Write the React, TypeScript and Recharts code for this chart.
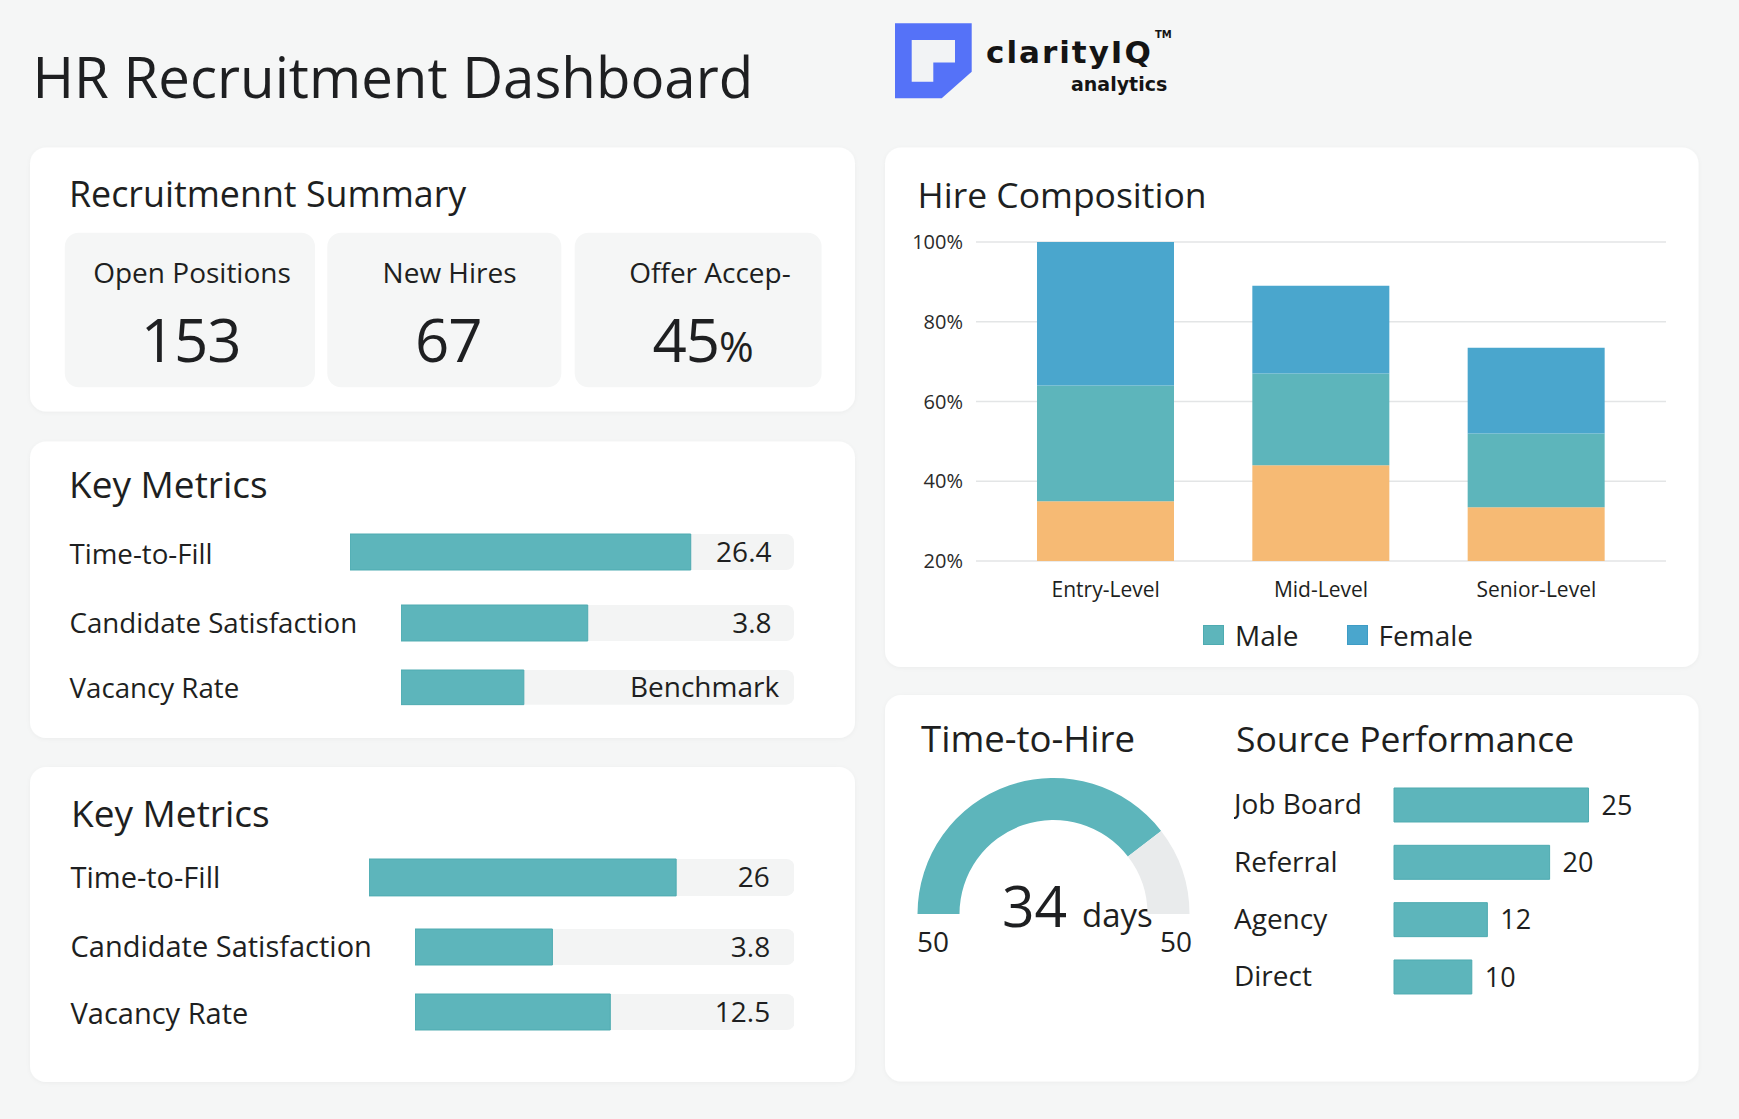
import React from 'react';
import {
  BarChart,
  Bar,
  XAxis,
  YAxis,
  CartesianGrid,
  Legend,
  PieChart,
  Pie,
  Cell,
  LabelList,
} from 'recharts';

const FONT = '"Open Sans", "Noto Sans", sans-serif';
const LOGO_FONT = '"DejaVu Sans", "Open Sans", sans-serif';
const INK = '#1e1f21';
const TEAL = '#5db5bb';
const TEAL_EDGE = '#4eabb1';
const BLUE = '#4aa6cd';
const BLUE_EDGE = '#3e9cc5';
const ORANGE = '#f6ba74';
const TRACK = '#f3f4f4';
const PAGE = '#f5f6f6';
const GAUGE_REST = '#e9ebec';

// Summary tiles
const summaryLabels = ['Open Positions', 'New Hires', 'Offer Accep-'];
const summaryValues = ['153', '67', '45'];
const summaryUnits = ['', '', '%'];

// Key metrics, first panel
const metricsA = ['Time-to-Fill', 'Candidate Satisfaction', 'Vacancy Rate'];
const metricsAValues = [26.4, 3.8, 12.5];
const metricsAScale = [34.4, 8, 40];
const metricsANotes = [null, null, 'Benchmark'];

// Key metrics, second panel
const metricsB = ['Time-to-Fill', 'Candidate Satisfaction', 'Vacancy Rate'];
const metricsBValues = [26, 3.8, 12.5];
const metricsBScale = [36, 10.5, 24.3];

// Hire composition (cumulative stack, percent)
const levels = ['Entry-Level', 'Mid-Level', 'Senior-Level'];
const otherShare = [35, 44, 33.5];
const maleShare = [29, 23, 18.5];
const femaleShare = [36, 22, 21.5];
const shareTicks = [20, 40, 60, 80, 100];
const legendOrder = ['Male', 'Female'];

// Time to hire gauge
const timeToHireDays = 34;
const timeToHireScaleMax = 43;
const gaugeEndLabels = ['50', '50'];

// Source performance
const sources = ['Job Board', 'Referral', 'Agency', 'Direct'];
const sourceHires = [25, 20, 12, 10];
const sourceScaleMax = 32;

const compositionData = levels.map((level, i) => ({
  level,
  other: otherShare[i],
  male: maleShare[i],
  female: femaleShare[i],
}));

const gaugeData = [
  { name: 'elapsed', value: timeToHireDays },
  { name: 'remaining', value: timeToHireScaleMax - timeToHireDays },
];

const sourceData = sources.map((source, i) => ({ source, hires: sourceHires[i] }));

// layout of the metric rows: [left, top, height]
const rowsA = [
  [350.3, 532.3, 40],
  [401.2, 603.3, 40],
  [401.2, 668.3, 38.5],
];
const rowsB = [
  [369, 856.7, 41],
  [414.6, 926.7, 40],
  [414.6, 992.3, 40],
];
const TRACK_RIGHT = 794.3;

type MetricRowProps = {
  left: number;
  top: number;
  height: number;
  value: number;
  max: number;
  note?: string | null;
  inset: number;
};

function MetricRow({ left, top, height, value, max, note, inset }: MetricRowProps) {
  const width = TRACK_RIGHT - left;
  const data = [{ v: value }];
  return (
    <div style={{ position: 'absolute', left, top, width, height }}>
      <BarChart
        width={width}
        height={height}
        data={data}
        layout="vertical"
        margin={{ top: 0, right: 0, bottom: 0, left: 0 }}
      >
        <XAxis type="number" domain={[0, max]} hide />
        <YAxis type="category" hide />
        <Bar
          dataKey="v"
          fill={TEAL}
          stroke={TEAL_EDGE}
          strokeWidth={1}
          barSize={height}
          background={{ fill: TRACK, radius: 8 }}
          isAnimationActive={false}
        >
          <LabelList
            dataKey="v"
            content={(p: any) => (
              <text
                x={width - (note ? 15 : inset)}
                y={height / 2}
                dy="0.35em"
                textAnchor="end"
                fill={INK}
                fontFamily={FONT}
                fontSize={28}
              >
                {note ?? String(p.value)}
              </text>
            )}
          />
        </Bar>
      </BarChart>
    </div>
  );
}

const renderCompositionLegend = (props: any) => {
  const items = (props.payload || [])
    .filter((e: any) => legendOrder.includes(e.value))
    .sort((a: any, b: any) => legendOrder.indexOf(a.value) - legendOrder.indexOf(b.value));
  return (
    <div
      style={{
        height: 30,
        display: 'flex',
        alignItems: 'center',
        paddingLeft: 303,
        fontFamily: FONT,
        fontSize: 28,
        color: INK,
      }}
    >
      {items.map((e: any, i: number) => (
        <div key={i} style={{ display: 'flex', alignItems: 'center', marginRight: 48 }}>
          <span
            style={{
              display: 'inline-block',
              width: 21,
              height: 20,
              boxSizing: 'border-box',
              background: e.color,
              border: `1.5px solid ${e.value === 'Male' ? TEAL_EDGE : BLUE_EDGE}`,
              marginRight: 11,
            }}
          />
          <span style={{ lineHeight: '30px' }}>{e.value}</span>
        </div>
      ))}
    </div>
  );
};

const renderSourceTick = (props: any) => (
  <text x={0} y={props.y} dy="0.35em" textAnchor="start" fill={INK} fontFamily={FONT} fontSize={28}>
    {props.payload.value}
  </text>
);

function StaticLayer() {
  const tileX = [
    [64.8, 315],
    [327.3, 561.3],
    [574.7, 821.6],
  ];
  const labelCenters = [192, 449.6, 710];
  const valueCenters = [190.7, 448.3, 702.6];
  const rowABaselines = [564, 632.7, 697.7];
  const rowBBaselines = [888.3, 957.3, 1023.5];
  return (
    <svg width={1739} height={1119} style={{ position: 'absolute', left: 0, top: 0 }}>
      <defs>
        <filter id="cardShadow" x="-5%" y="-5%" width="110%" height="110%">
          <feDropShadow dx="0" dy="1" stdDeviation="2" floodColor="#000" floodOpacity="0.04" />
        </filter>
      </defs>
      <rect x={0} y={0} width={1739} height={1119} fill={PAGE} />

      <text x={32.5} y={98.3} fontFamily={FONT} fontSize={56.4} fontWeight={500} fill={INK}>
        HR Recruitment Dashboard
      </text>

      {/* brand mark */}
      <polygon points="895,23.3 971.7,23.3 971.7,71.7 941.7,98.3 895,98.3" fill="#5572f8" />
      <path d="M911.7,40 H955 V62.5 H933.3 V81.7 H911.7 Z" fill="#f2f3f5" />
      <text x={986} y={63.3} fontFamily={LOGO_FONT} fontSize={31} fontWeight={700} letterSpacing={2} fill="#141414">
        clarityIQ
      </text>
      <text x={1155} y={37.7} fontFamily={LOGO_FONT} fontSize={10} fontWeight={700} fill="#141414">
        TM
      </text>
      <text x={1071} y={91} fontFamily={LOGO_FONT} fontSize={19} fontWeight={700} fill="#141414">
        analytics
      </text>

      {/* cards */}
      <g filter="url(#cardShadow)" fill="#ffffff">
        <rect x={30} y={147.5} width={825} height={264} rx={16} />
        <rect x={30} y={441.5} width={825} height={296.5} rx={16} />
        <rect x={30} y={767} width={825} height={315} rx={16} />
        <rect x={885} y={147.5} width={813.5} height={519.5} rx={16} />
        <rect x={885} y={695} width={813.5} height={386.5} rx={16} />
      </g>

      {/* summary tiles */}
      {tileX.map(([a, b], i) => (
        <rect key={i} x={a} y={232.7} width={b - a} height={154.6} rx={14} fill="#f5f6f6" />
      ))}

      <g fontFamily={FONT} fontWeight={500} fill={INK}>
        <text x={69} y={206.7} fontSize={35.8}>Recruitmennt Summary</text>
        <text x={69} y={498.3} fontSize={37}>Key Metrics</text>
        <text x={71} y={826.7} fontSize={37}>Key Metrics</text>
        <text x={917.5} y={207.6} fontSize={35.5}>Hire Composition</text>
        <text x={921} y={751.7} fontSize={36.6}>Time-to-Hire</text>
        <text x={1236} y={751.7} fontSize={35.5}>Source Performance</text>
      </g>

      <g fontFamily={FONT} fill={INK}>
        {summaryLabels.map((s, i) => (
          <text key={s} x={labelCenters[i]} y={283.3} fontSize={28} textAnchor="middle">
            {s}
          </text>
        ))}
        {summaryValues.map((v, i) => (
          <text key={i} x={valueCenters[i]} y={361.7} fontSize={60} letterSpacing={-1} textAnchor="middle">
            {v}
            {summaryUnits[i] ? <tspan fontSize={42}>{summaryUnits[i]}</tspan> : null}
          </text>
        ))}
      </g>

      <g fontFamily={FONT} fill={INK}>
        {metricsA.map((m, i) => (
          <text key={m} x={69.5} y={rowABaselines[i]} fontSize={27.7}>
            {m}
          </text>
        ))}
        {metricsB.map((m, i) => (
          <text key={m} x={70.5} y={rowBBaselines[i]} fontSize={29}>
            {m}
          </text>
        ))}
      </g>

      {/* gauge readout */}
      <g fontFamily={FONT} fill={INK}>
        <text x={1002} y={927.3} fontSize={57} fontWeight={500}>
          {timeToHireDays}
        </text>
        <text x={1082} y={927} fontSize={33}>
          days
        </text>
        <text x={917} y={952} fontSize={28}>
          {gaugeEndLabels[0]}
        </text>
        <text x={1192} y={952} fontSize={28} textAnchor="end">
          {gaugeEndLabels[1]}
        </text>
      </g>
    </svg>
  );
}

export default function App() {
  return (
    <div
      style={{
        position: 'absolute',
        left: 0,
        top: 0,
        width: 1739,
        height: 1119,
        overflow: 'hidden',
        background: PAGE,
        fontFamily: FONT,
      }}
    >
      <StaticLayer />

      {metricsA.map((m, i) => (
        <MetricRow
          key={'a' + m}
          left={rowsA[i][0]}
          top={rowsA[i][1]}
          height={rowsA[i][2]}
          value={metricsAValues[i]}
          max={metricsAScale[i]}
          note={metricsANotes[i]}
          inset={22.5}
        />
      ))}

      {metricsB.map((m, i) => (
        <MetricRow
          key={'b' + m}
          left={rowsB[i][0]}
          top={rowsB[i][1]}
          height={rowsB[i][2]}
          value={metricsBValues[i]}
          max={metricsBScale[i]}
          inset={24.5}
        />
      ))}

      {/* hire composition */}
      <div style={{ position: 'absolute', left: 900, top: 220 }}>
        <BarChart
          width={790}
          height={430}
          data={compositionData}
          margin={{ top: 22, right: 24, bottom: 0, left: 0 }}
        >
          <CartesianGrid vertical={false} stroke="#e3e5e6" strokeWidth={1.5} />
          <XAxis
            dataKey="level"
            axisLine={false}
            tickLine={false}
            tickSize={0}
            tickMargin={21}
            height={59}
            interval={0}
            padding={{ left: 22, right: 22 }}
            tick={{ fill: INK, fontSize: 21, fontFamily: FONT }}
          />
          <YAxis
            type="number"
            domain={[20, 100]}
            ticks={shareTicks}
            allowDataOverflow
            axisLine={false}
            tickLine={false}
            tickSize={0}
            tickMargin={13}
            width={76}
            tickFormatter={(v: number) => `${v}%`}
            tick={{ fill: '#2a2a2a', fontSize: 20, fontFamily: FONT }}
          />
          <Legend content={renderCompositionLegend} verticalAlign="bottom" />
          <Bar dataKey="other" name="Other" stackId="mix" fill={ORANGE} barSize={137} legendType="none" isAnimationActive={false} />
          <Bar dataKey="male" name="Male" stackId="mix" fill={TEAL} barSize={137} isAnimationActive={false} />
          <Bar dataKey="female" name="Female" stackId="mix" fill={BLUE} barSize={137} isAnimationActive={false} />
        </BarChart>
      </div>

      {/* time to hire gauge */}
      <div style={{ position: 'absolute', left: 900, top: 760 }}>
        <PieChart width={310} height={180} margin={{ top: 0, right: 0, bottom: 0, left: 0 }}>
          <Pie
            data={gaugeData}
            dataKey="value"
            cx={153.5}
            cy={154}
            startAngle={180}
            endAngle={0}
            innerRadius={94}
            outerRadius={136}
            stroke="none"
            isAnimationActive={false}
          >
            <Cell fill={TEAL} />
            <Cell fill={GAUGE_REST} />
          </Pie>
        </PieChart>
      </div>

      {/* source performance */}
      <div style={{ position: 'absolute', left: 1234, top: 776 }}>
        <BarChart
          width={469}
          height={229.3}
          data={sourceData}
          layout="vertical"
          margin={{ top: 0, right: 60, bottom: 0, left: 0 }}
        >
          <XAxis type="number" domain={[0, sourceScaleMax]} hide />
          <YAxis
            type="category"
            dataKey="source"
            width={160}
            axisLine={false}
            tickLine={false}
            tick={renderSourceTick}
          />
          <Bar dataKey="hires" fill={TEAL} stroke={TEAL_EDGE} strokeWidth={1} barSize={34} isAnimationActive={false}>
            <LabelList dataKey="hires" position="right" offset={13} fill={INK} fontSize={27} fontFamily={FONT} />
          </Bar>
        </BarChart>
      </div>
    </div>
  );
}
